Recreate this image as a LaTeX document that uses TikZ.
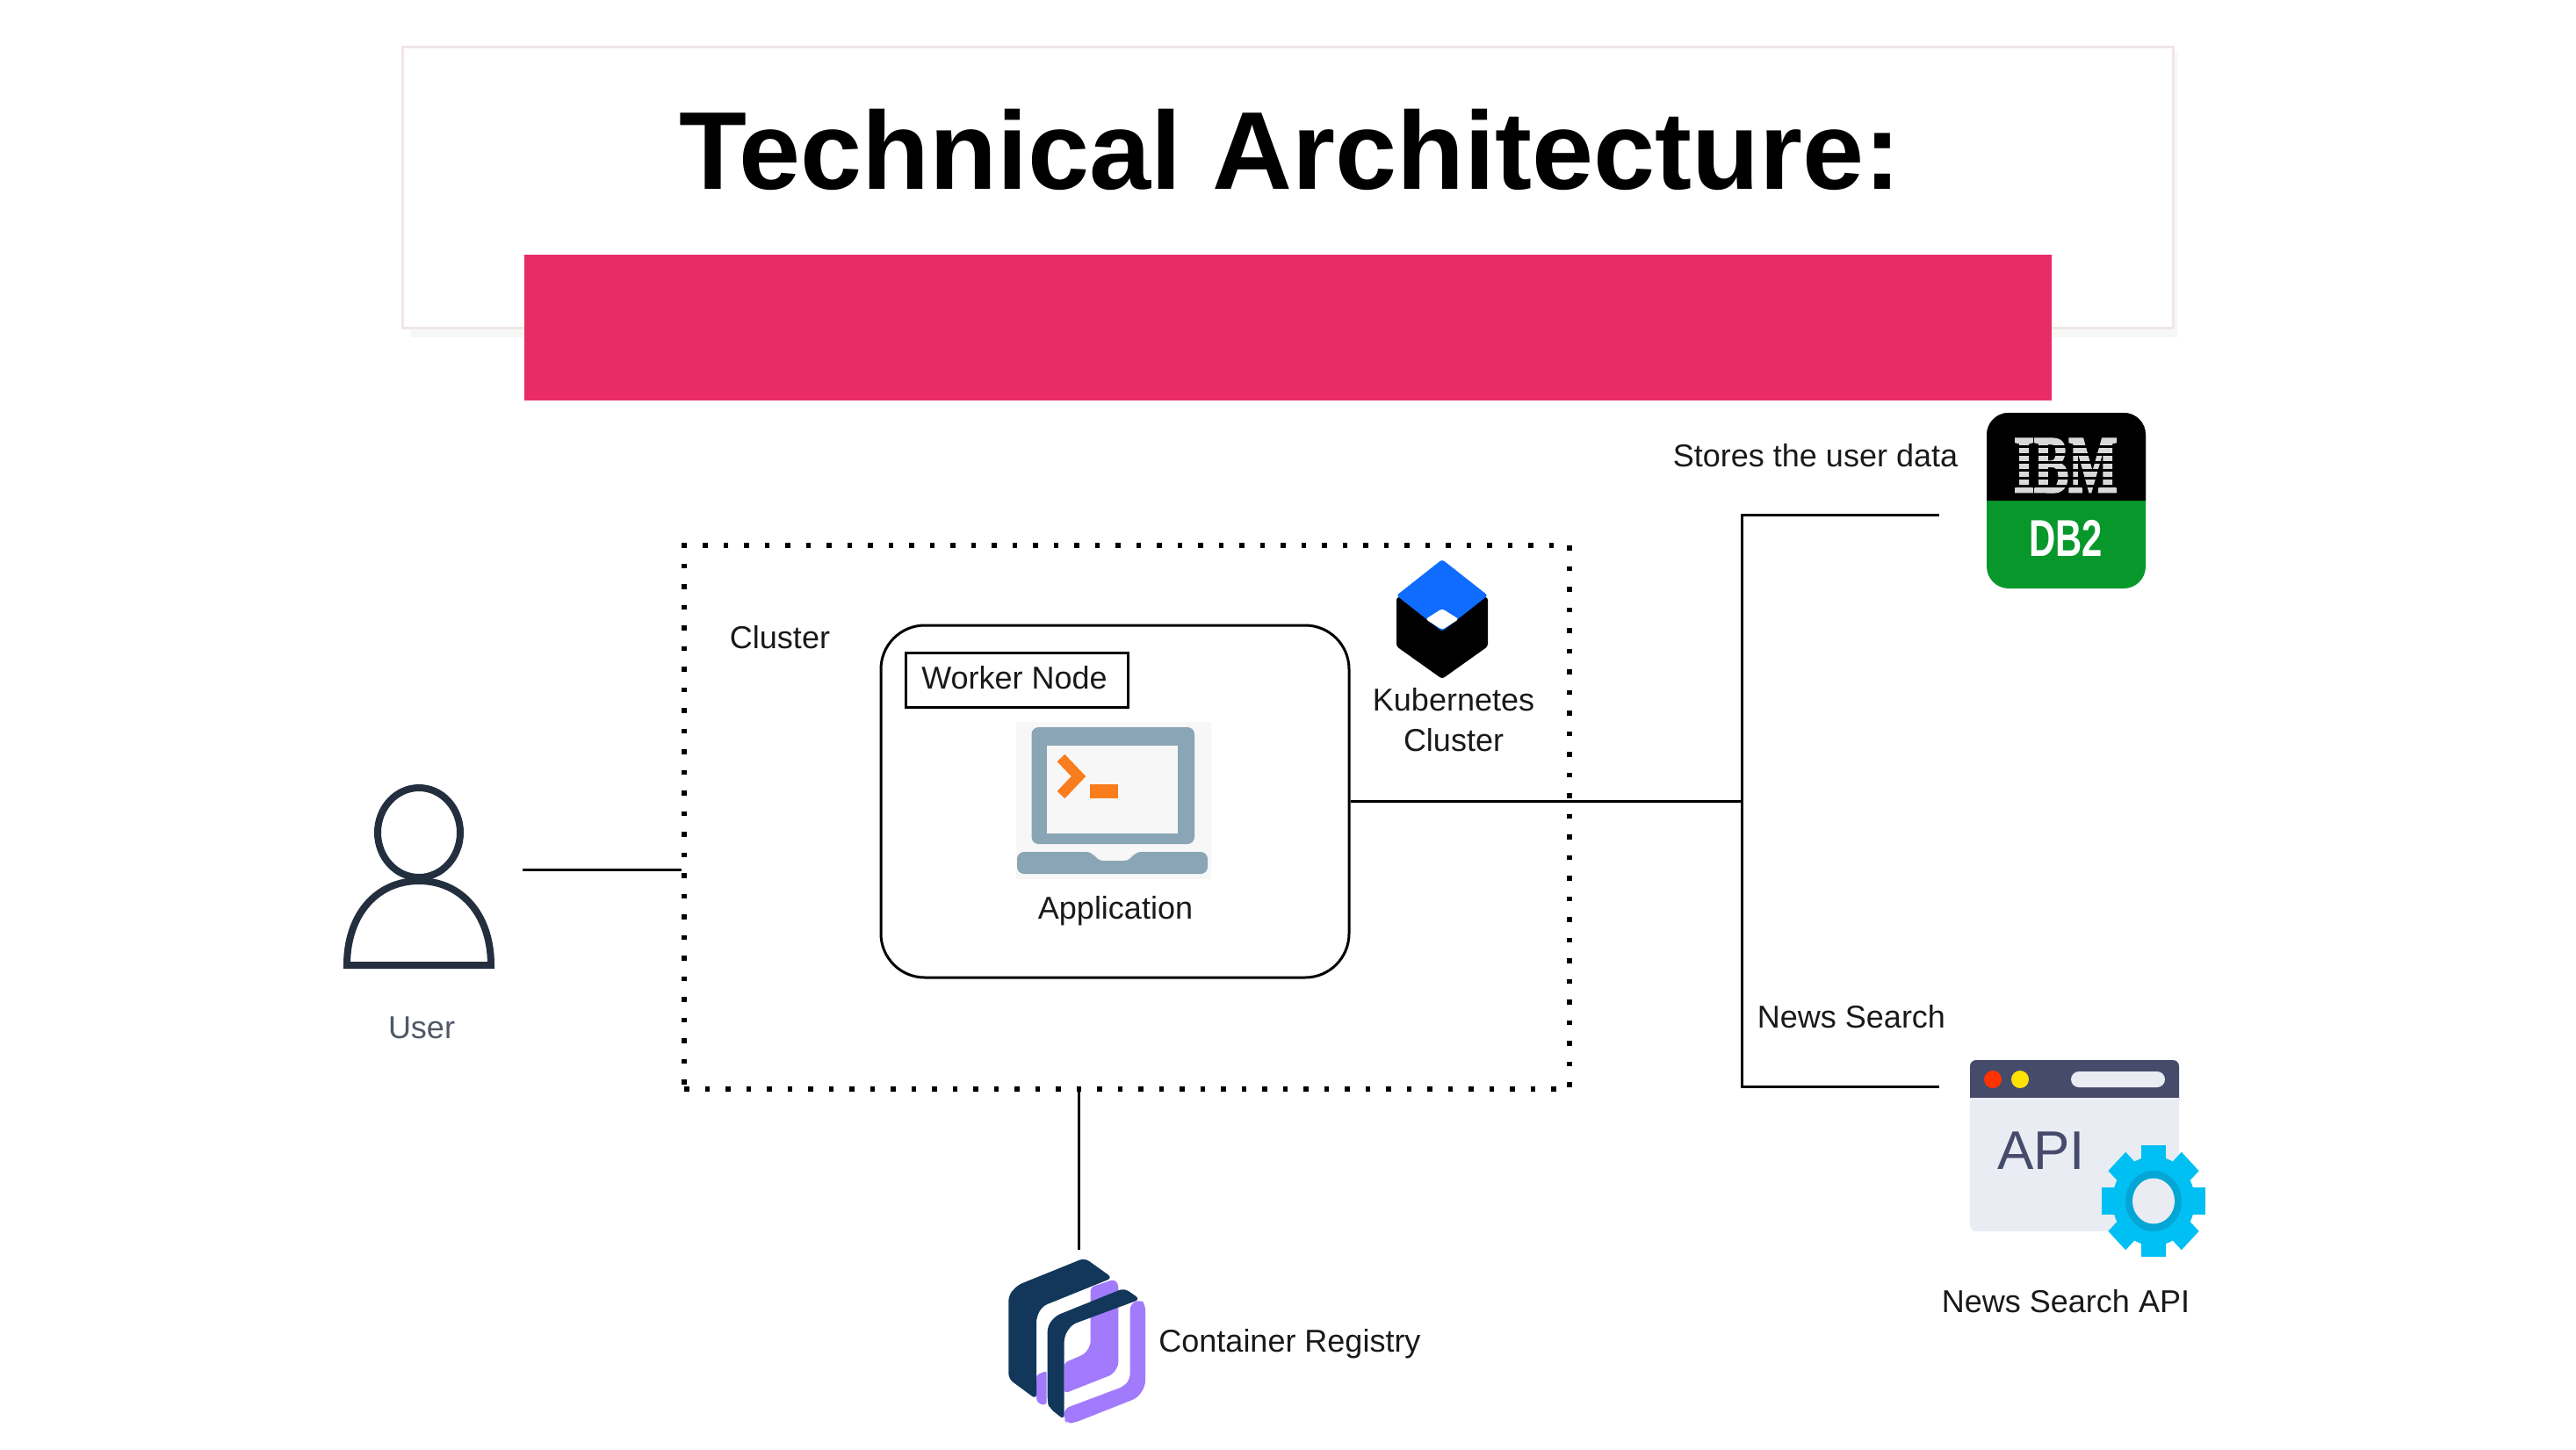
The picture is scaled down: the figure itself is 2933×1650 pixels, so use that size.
\documentclass[tikz,border=0pt]{standalone}
\usepackage{fontspec}
\usepackage{xcolor}
\setmainfont{Liberation Sans}
\newfontfamily\slabfont[BoldFeatures={FakeBold=3}]{Liberation Serif}
\usetikzlibrary{positioning}
\definecolor{titlepink}{HTML}{E92C65}
\definecolor{titleline}{HTML}{F0E6E6}
\definecolor{usernavy}{HTML}{232F3E}
\definecolor{laptopblue}{HTML}{89A5B6}
\definecolor{laptopbg}{HTML}{F7F7F7}
\definecolor{promptorange}{HTML}{F97D1C}
\definecolor{kubeblue}{HTML}{0F6CFF}
\definecolor{dbgreen}{HTML}{07972B}
\definecolor{apislate}{HTML}{474B6B}
\definecolor{apibg}{HTML}{E9ECF2}
\definecolor{gearblue}{HTML}{00BFF3}
\definecolor{gearring}{HTML}{04A6D6}
\definecolor{regnavy}{HTML}{12375B}
\definecolor{regviolet}{HTML}{A27BFC}
\tikzset{
    caption/.style={anchor=base, inner sep=0pt, text=black!90, font=\fontsize{36}{36}\selectfont},
    link/.style={draw=black, line width=3pt}
}

\begin{document}
\begin{tikzpicture}[x=1pt, y=-1pt]
    \useasboundingbox (0,0) rectangle (2933,1650);

    % title
    \fill[black!3] (468,60) rectangle (2479,384);
    \node[draw=titleline, fill=white, line width=3pt, minimum width=2016pt, minimum height=320pt, inner sep=0pt] (titlebox) at (1466,213) {};
    \node[anchor=base, inner sep=0pt, font=\fontsize{126}{126}\selectfont\bfseries] (titletext) at (1469,215) {Technical Architecture:};
    \node[fill=titlepink, minimum width=1739pt, minimum height=166pt, inner sep=0pt] (titlebar) at (1466.5,373) {};

    % cluster and worker node
    \node[draw, line width=5.5pt, dash pattern=on 5.5pt off 18pt, minimum width=1008pt, minimum height=619pt, inner sep=0pt] (cluster) at (1283,930.5) {};
    \node[draw, line width=3pt, rounded corners=50pt, minimum width=533pt, minimum height=401pt, inner sep=0pt] (worker) at (1269.5,912.5) {};
    \node[draw, line width=3pt, minimum width=253pt, minimum height=62pt, inner sep=0pt] (workerbox) at (1157.5,774) {};
    \node[caption] (workertext) at (1155,784) {Worker Node};
    \node[caption] (clustertext) at (888,738) {Cluster};

    % application laptop
    \fill[laptopbg] (1157,822) rectangle (1379,1001);
    \fill[laptopblue, rounded corners=8pt] (1174.5,961) -- (1174.5,828) -- (1360,828) -- (1360,961) -- cycle;
    \fill[laptopbg] (1192,849) rectangle (1341,949);
    \draw[promptorange, line width=12pt] (1208,863) -- (1228,884) -- (1208,905);
    \fill[promptorange] (1241,893) rectangle (1273,909);
    \fill[laptopblue, rounded corners=8pt] (1158,970) -- (1245,970) -- (1248,980) -- (1288,980) -- (1291,970) -- (1375,970) -- (1375,995) -- (1158,995) -- cycle;
    \node[caption] (apptext) at (1270,1046) {Application};

    % kubernetes
    \fill[black, rounded corners=3pt] (1590,680) -- (1694,680) -- (1694,736) -- (1642,773) -- (1590,736) -- cycle;
    \fill[kubeblue, rounded corners=3pt] (1642,637) -- (1694,678) -- (1642,719) -- (1590,678) -- cycle;
    \fill[white, rounded corners=3pt] (1642,693) -- (1661,705) -- (1642,717) -- (1623,705) -- cycle;
    \node[caption] (kubetext) at (1655,809) {Kubernetes};
    \node[caption] (kubetextb) at (1655,855) {Cluster};

    % user
    \draw[usernavy, line width=8pt] (477,948) ellipse (47pt and 51pt);
    \draw[usernavy, line width=8pt] (395,1099) .. controls (395,1040) and (430,1003) .. (477,1003) .. controls (524,1003) and (559,1040) .. (559,1099) -- cycle;
    \node[caption, text=usernavy!80] (usertext) at (480,1182) {User};

    % db2
    \fill[dbgreen, rounded corners=25pt] (2262,470) rectangle (2443,670);
    \fill[black] (2262,570) [rounded corners=25pt] -- (2262,470) -- (2443,470) [sharp corners] -- (2443,570) -- cycle;
    \node[anchor=base, inner sep=0pt, xscale=.64, text=black!15, font=\fontsize{92}{92}\selectfont\slabfont\bfseries] (ibmtext) at (2352,560) {IBM};
    \foreach \ystripe in {507,516,525,534,543,552}
        \fill[black] (2288,\ystripe) rectangle (2416,\ystripe+2.5);
    \node[anchor=base, inner sep=0pt, xscale=.71, text=white, font=\fontsize{59}{59}\selectfont\bfseries] (dbtext) at (2352,633) {DB2};
    \node[caption] (storetext) at (2067,531) {Stores the user data};

    % news search api
    \fill[apibg, rounded corners=7pt] (2243,1207) rectangle (2481,1402);
    \fill[apislate, rounded corners=7pt] (2243,1260) -- (2243,1207) -- (2481,1207) -- (2481,1260) -- cycle;
    \fill[apibg] (2243,1250) rectangle (2481,1262);
    \fill[red!60!orange] (2269,1229) circle (10pt);
    \fill[yellow!85!orange] (2300,1229) circle (10pt);
    \fill[apibg, rounded corners=9pt] (2358,1220) rectangle (2465,1238);
    \node[anchor=base, inner sep=0pt, text=apislate, font=\fontsize{62}{62}\selectfont] (apitext) at (2324,1331) {API};
    \begin{scope}[shift={(2452,1367.5)}, yscale=1.08]
        \foreach \angle in {0,45,...,315}
            \fill[gearblue, rotate=\angle] (-14,-59) rectangle (14,-40);
        \fill[gearblue] (0,0) circle (47pt);
        \fill[gearring] (0,0) circle (32pt);
        \fill[apibg] (0,0) circle (24pt);
    \end{scope}
    \node[caption] (searchtext) at (2108,1170) {News Search};
    \node[caption] (apilabel) at (2352,1494) {News Search API};

    % container registry
    \begin{scope}[shift={(1120,1400)}, x=1/3*1pt, y=-1/3*1pt]
        \fill[regviolet, rounded corners=4pt] (365,197) -- (445,170) -- (460,185) -- (460,465) -- (440,495) -- (275,560) -- (275,455) -- (345,425) -- (365,395) -- cycle;
        \fill[regviolet, rounded corners=3pt] (180,497) -- (215,482) -- (215,598) -- (195,598) -- (180,585) -- cycle;
        \fill[regnavy, rounded corners=6pt] (345,97) -- (440,165) -- (200,262) -- (180,300) -- (180,580) -- (85,510) -- (85,225) -- (115,190) -- cycle;
        \fill[regviolet, rounded corners=6pt] (535,238) -- (552,255) -- (552,535) -- (525,575) -- (310,660) -- (285,662) -- (275,650) -- (275,612) -- (480,535) -- (500,510) -- (500,255) -- cycle;
        \fill[regnavy, rounded corners=6pt] (480,200) -- (535,238) -- (300,325) -- (275,365) -- (275,650) -- (225,610) -- (218,590) -- (218,330) -- (245,295) -- cycle;
    \end{scope}
    \node[caption] (regtext) at (1468.5,1539) {Container Registry};

    % connectors
    \coordinate (userend) at (595,990);
    \coordinate (regend) at (1228,1423);
    \coordinate (dbcorner) at (1983,586);
    \coordinate (dbend) at (2208,586);
    \coordinate (apicorner) at (1983,1237);
    \coordinate (apiend) at (2208,1237);

    \draw[link] (userend) to (cluster.west |- userend);
    \draw[link] (regend) to (cluster.south -| regend);
    \draw[link] (worker.east) to (worker.east -| dbcorner);
    \draw[link] (dbend) -- (dbcorner) -- (apicorner) -- (apiend);
\end{tikzpicture}
\end{document}
